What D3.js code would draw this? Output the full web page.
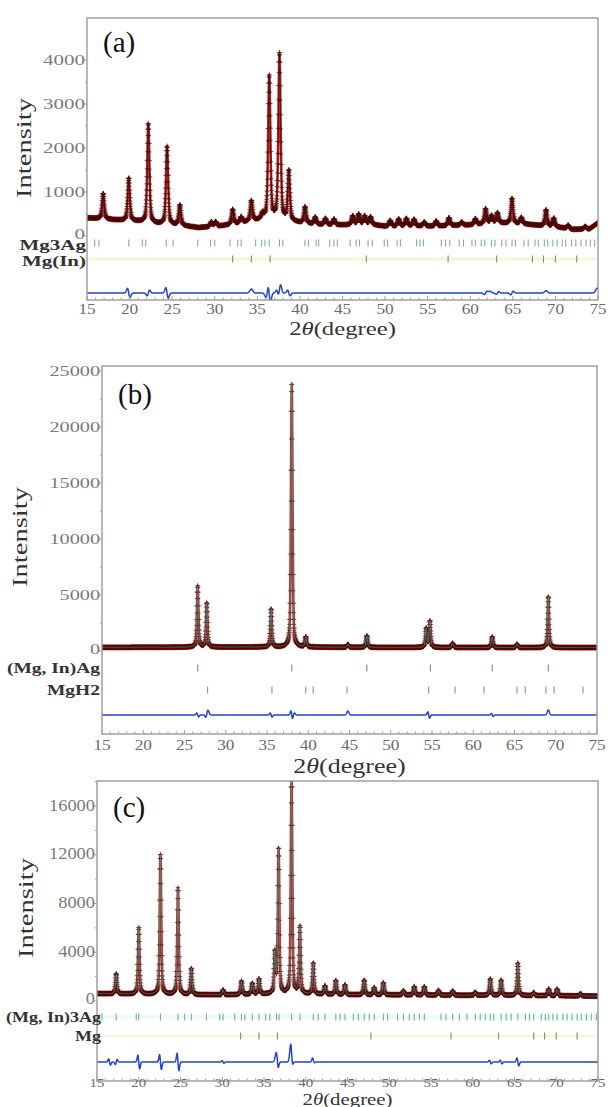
<!DOCTYPE html>
<html><head><meta charset="utf-8">
<script src="https://cdn.jsdelivr.net/npm/d3@7"></script>
<style>body{margin:0;background:#fff}svg{display:block}</style>
</head><body><svg id="c" width="609" height="1107"></svg>
<script>
// ---------------- DATA ----------------
const xTickVals = [15,20,25,30,35,40,45,50,55,60,65,70,75];

// Panel (a): peaks [2θ, intensity above background], background knots [2θ, intensity]
const bgA = [[15,410],[16,400],[18,370],[21,330],[23,280],[26,240],[28,190],[30,210],[32,260],[34,330],[36,380],[38,360],[40,300],[42,260],[45,250],[48,270],[50,220],[53,230],[56,220],[58,240],[60,250],[63,300],[66,280],[68,240],[70,210],[72,150],[74,160],[75,300]];
const peaksA = [[16.9,580],[19.9,970],[22.2,2250],[24.4,1770],[25.9,460],[29.6,110],[30.1,110],[32.1,340],[33.1,130],[34.3,460],[35.6,120],[36.4,3250],[37.6,3770],[38.7,1130],[40.6,370],[41.8,160],[43.0,140],[44.0,130],[46.2,200],[46.9,230],[47.6,190],[48.3,170],[50.6,130],[51.6,160],[52.5,170],[53.4,150],[54.6,90],[56.0,120],[57.5,180],[59.0,70],[60.6,130],[61.8,340],[62.5,170],[63.2,230],[64.9,570],[66.0,140],[68.9,370],[69.8,190],[71.5,80],[73.5,60]];
const mg3AgTicks = [15.9,16.4,19.9,21.5,21.9,24.3,25.1,28.0,29.5,30.0,31.8,32.7,33.1,34.8,35.5,35.9,36.4,37.6,38.0,40.6,41.0,41.9,42.2,43.5,44.0,44.4,45.9,46.6,47.0,48.0,48.5,49.9,50.3,51.4,51.8,53.7,54.1,54.5,56.6,57.1,57.6,58.7,59.2,60.2,60.6,61.3,61.7,62.5,62.9,63.7,64.2,64.9,65.3,66.3,66.8,67.6,68.0,68.7,69.1,69.7,70.2,70.8,71.2,71.9,72.4,73.0,73.6,74.1,74.6];
const mgInTicks = [32.1,34.3,36.5,47.8,57.4,63.1,67.3,68.6,70.0,72.5];
const diffWigA = [[19.9,-150],[22.2,90],[24.4,-170],[36.4,-300],[37.6,230],[38.7,-90],[61.8,50],[63.2,40],[64.9,60]];
const diffBumpA = [[34.3,90],[36.1,-150],[37.4,150],[62.3,40],[68.9,50],[74.9,110]];

// Panel (b)
const bgB = [[15,330],[25,340],[35,350],[45,330],[55,320],[65,310],[75,300]];
const peaksB = [[26.6,5450],[27.7,3950],[35.5,3400],[38.0,23450],[39.7,900],[44.8,260],[47.1,1050],[54.3,1700],[54.75,2350],[57.5,380],[62.3,950],[65.3,300],[69.1,4550]];
const mgInAgTicks = [26.6,38.0,47.1,54.8,62.3,69.1];
const mgH2Ticks = [27.8,35.6,39.7,40.6,44.7,54.6,57.8,61.3,65.3,66.3,68.8,69.8,73.3];
const diffWigB = [[26.6,-250],[27.7,300],[35.5,-250],[38.0,-500],[54.6,-400],[62.3,-180]];
const diffBumpB = [[27.9,250],[44.8,350],[69.1,450],[38.3,200]];

// Panel (c)
const bgC = [[15,600],[20,560],[25,520],[30,500],[35,560],[40,560],[45,520],[50,500],[55,480],[60,470],[65,460],[70,430],[75,400]];
const peaksC = [[17.3,1650],[20.0,5450],[22.6,11450],[24.7,8750],[26.3,2150],[30.1,400],[32.3,1100],[33.6,900],[34.4,1250],[36.3,3300],[36.75,11900],[38.3,17400],[39.3,5500],[40.9,2550],[42.3,700],[43.6,1150],[44.7,800],[47.0,1200],[48.2,600],[49.3,1000],[51.7,350],[53.0,700],[54.2,700],[55.9,400],[57.6,350],[60.3,250],[62.1,1350],[63.4,1250],[65.4,2650],[67.3,250],[69.1,550],[70.1,550],[72.9,200]];
const mgIn3AgTicks = [15.6,17.3,19.7,20.0,22.6,24.7,25.5,26.3,28.1,29.7,30.1,31.5,32.3,32.7,33.6,34.4,35.2,35.7,36.5,36.8,38.3,39.3,40.9,41.5,42.3,43.6,44.1,44.7,45.7,46.3,47.0,47.6,48.2,49.3,49.8,51.0,51.7,52.4,53.0,53.6,54.2,56.2,56.8,57.6,58.4,59.3,60.3,60.9,61.5,62.1,62.5,63.4,64.0,64.6,65.4,66.3,66.8,67.3,68.2,68.7,69.1,69.6,70.1,70.8,71.3,71.9,72.5,73.0,73.6,74.2,74.8];
const mgTicks = [32.2,34.4,36.6,47.8,57.4,63.1,67.3,68.6,70.0,72.5];
const diffWigC = [[16.5,-350],[17.3,300],[20.0,-800],[22.6,-850],[24.7,-1000],[30.1,-150],[36.6,-650],[38.3,-500],[40.9,-250],[62.1,-200],[63.4,-200],[65.4,-450]];
const diffBumpC = [[38.2,1100],[36.4,400],[40.9,200]];

const yTicksA = [0,1000,2000,3000,4000];
const yTicksB = [0,5000,10000,15000,20000,25000];
const yTicksC = [0,4000,8000,12000,16000];

// ---------------- DRAW ----------------
const svg = d3.select("#c");
const FONT = "'Liberation Serif','Times New Roman',serif";

const panels = [
  {label:"(a)", peaks:peaksA, bg:bgA, wig:diffWigA, bump:diffBumpA,
   ph:[{name:"Mg3Ag", t:mg3AgTicks, c:"#86ad93"},{name:"Mg(In)", t:mgInTicks, c:"#8d8d4a"}],
   yTicks:yTicksA, yMinorStep:500, yMax:4000, band2:"#f7f3cf", band1:null, calc:"#2a1a1a",
   L:87,R:598,T:18,B:300, y0px:236, yTopPx:60, rows:[243,259], diffY:293, fw:0.3,
   titleY:335, tickLabY:314, lab:[103,52], ylabX:31, ylabY:148, phX:86, phSx:1.5, phFs:14, phDy:7, ySx:1.4, yFs:15, xFs:15, tFs:19},
  {label:"(b)", peaks:peaksB, bg:bgB, wig:diffWigB, bump:diffBumpB,
   ph:[{name:"(Mg, In)Ag", t:mgInAgTicks, c:"#5f9c7a"},{name:"MgH2", t:mgH2Ticks, c:"#7f9a80"}],
   yTicks:yTicksB, yMinorStep:2500, yMax:25000, band2:null, band1:null, calc:"#2aa08c",
   L:102,R:597,T:366,B:734, y0px:651, yTopPx:371, rows:[668,690], diffY:715, fw:0.22,
   titleY:773, tickLabY:750, lab:[118,404], ylabX:27, ylabY:537, phX:100, phSx:1.3, phFs:15, phDy:5, ySx:1.35, yFs:15, xFs:15, tFs:20},
  {label:"(c)", peaks:peaksC, bg:bgC, wig:diffWigC, bump:diffBumpC,
   ph:[{name:"(Mg, In)3Ag", t:mgIn3AgTicks, c:"#6fb0a0"},{name:"Mg", t:mgTicks, c:"#8d8d4a"}],
   yTicks:yTicksC, yMinorStep:2000, yMax:16000, band2:"#f8f5d8", band1:"#eef9f8", calc:"#2aa08c",
   L:97,R:598,T:781,B:1081, y0px:1001, yTopPx:806, rows:[1017,1036], diffY:1062, fw:0.22,
   titleY:1105, tickLabY:1087, lab:[113,817], ylabX:33, ylabY:908, phX:101, phSx:1.2, phFs:15, phDy:5, ySx:1.15, yFs:16, xFs:13, tFs:16}
];

function pv(x, p, w){
  const d = (x-p)/w;
  const L = 1/(1+4*d*d);
  const G = Math.exp(-4*Math.LN2*d*d);
  return 0.5*L + 0.5*G;
}

panels.forEach((P, pi) => {
  const g = svg.append("g");
  const x = d3.scaleLinear().domain([15,75]).range([P.L, P.R]);
  const y = d3.scaleLinear().domain([0, P.yMax]).range([P.y0px, P.yTopPx]);
  const bgScale = d3.scaleLinear().domain(P.bg.map(d=>d[0])).range(P.bg.map(d=>d[1]));

  const clipId = "clip"+pi;
  g.append("clipPath").attr("id", clipId).append("rect")
    .attr("x", P.L).attr("y", P.T).attr("width", P.R-P.L).attr("height", P.B-P.T);

  const xs = d3.range(15, 75.0001, 0.02);
  const model = xs.map(t => {
    let v = bgScale(t);
    P.peaks.forEach(([p,a]) => { v += a*pv(t, p, P.fw); });
    return [t, v];
  });

  const plot = g.append("g").attr("clip-path", `url(#${clipId})`);

  if (P.band2) plot.append("line").attr("x1", x(15)).attr("x2", x(75)).attr("y1", P.rows[1]).attr("y2", P.rows[1])
    .attr("stroke", P.band2).attr("stroke-width", 2.5);
  if (P.band1) plot.append("line").attr("x1", x(15)).attr("x2", x(75)).attr("y1", P.rows[0]).attr("y2", P.rows[0])
    .attr("stroke", P.band1).attr("stroke-width", 4);

  // observed (red halo + dark crosses)
  const line = d3.line().x(d=>x(d[0])).y(d=>y(d[1]));
  plot.append("path").datum(model).attr("d", line)
    .attr("fill","none").attr("stroke","#cc2222").attr("stroke-width",2.6).attr("stroke-linejoin","round");
  let redD = "", darkD = "";
  model.forEach((d,i) => {
    const cx = x(d[0]), cy = y(d[1]);
    if (i % 2 === 0) redD += `M${(cx-3).toFixed(1)},${cy.toFixed(1)}h6M${cx.toFixed(1)},${(cy-3).toFixed(1)}v6`;
    darkD += `M${(cx-2.3).toFixed(1)},${cy.toFixed(1)}h4.6M${cx.toFixed(1)},${(cy-2.3).toFixed(1)}v4.6`;
  });
  plot.append("path").attr("d", redD).attr("fill","none").attr("stroke","#e04848").attr("stroke-width",0.8).attr("opacity",0.7);
  plot.append("path").attr("d", darkD).attr("fill","none").attr("stroke","#520909").attr("stroke-width",0.9).attr("opacity",0.75);
  // calculated
  plot.append("path").datum(model).attr("d", line)
    .attr("fill","none").attr("stroke",P.calc).attr("stroke-width",0.9).attr("opacity",0.9);

  // Bragg ticks
  P.ph.forEach((ph, k) => {
    plot.selectAll(null).data(ph.t).enter().append("line")
      .attr("x1", d=>x(d)).attr("x2", d=>x(d))
      .attr("y1", P.rows[k]-3.5).attr("y2", P.rows[k]+3.5)
      .attr("stroke", ph.c).attr("stroke-width", 1.1);
  });

  // difference curve
  const diff = xs.map(t => {
    let v = 0;
    P.wig.forEach(([p,a]) => { const d=(t-p)/(P.fw*0.7); v += a*1.65*d*Math.exp(-d*d); });
    P.bump.forEach(([p,a]) => { const d=(t-p)/(P.fw*0.8); v += a*Math.exp(-d*d); });
    return [t, v];
  });
  const dline = d3.line().x(d=>x(d[0])).y(d=>P.diffY + (y(d[1]) - y(0)));
  plot.append("path").datum(diff).attr("d", dline)
    .attr("fill","none").attr("stroke","#2346c8").attr("stroke-width",1.5);

  // frame
  g.append("rect").attr("x",P.L).attr("y",P.T).attr("width",P.R-P.L).attr("height",P.B-P.T)
    .attr("fill","none").attr("stroke","#9a9a9a").attr("stroke-width",1.4);

  // x axis ticks (every 1°, inward)
  const xMinor = d3.range(15, 75.001, 1);
  g.selectAll(null).data(xMinor).enter().append("line")
    .attr("x1", d=>x(d)).attr("x2", d=>x(d))
    .attr("y1", P.B).attr("y2", d=> P.B - (d%5===0 ? 4 : 2.5))
    .attr("stroke","#a0a0a0").attr("stroke-width",1);
  g.selectAll(null).data(xTickVals).enter().append("text")
    .attr("transform", d=>`translate(${x(d)},${P.tickLabY}) scale(1.15,1)`)
    .attr("text-anchor","middle").attr("font-family",FONT).attr("font-size",P.xFs)
    .attr("fill","#6a6a6a").text(d=>d);

  // y axis ticks
  const yMinor = d3.range(0, P.yMax + 0.001 + (pi===2?2000:0), P.yMinorStep);
  g.selectAll(null).data(yMinor).enter().append("line")
    .attr("x1", P.L).attr("x2", d=> P.L - (P.yTicks.includes(d)?3:2))
    .attr("y1", d=>y(d)).attr("y2", d=>y(d))
    .attr("stroke","#a0a0a0").attr("stroke-width",1);
  g.selectAll(null).data(P.yTicks).enter().append("text")
    .attr("transform", d=>`translate(${P.L-2},${y(d)+(d===0?2.5:4.5)}) scale(${P.ySx},1)`)
    .attr("text-anchor","end").attr("font-family",FONT).attr("font-size",P.yFs)
    .attr("fill","#7a7a7a").text(d=>d);

  // axis title
  const tt = g.append("text").attr("transform",`translate(${(P.L+P.R)/2},${P.titleY}) scale(1.3,1)`)
    .attr("text-anchor","middle").attr("font-family",FONT).attr("font-size",P.tFs).attr("fill","#333");
  tt.append("tspan").text("2");
  tt.append("tspan").attr("font-style","italic").text("θ");
  tt.append("tspan").text("(degree)");

  // y label
  g.append("text").attr("transform",`translate(${P.ylabX},${P.ylabY}) rotate(-90)`)
    .attr("text-anchor","middle").attr("font-family",FONT).attr("font-size",22)
    .attr("textLength",100).attr("lengthAdjust","spacingAndGlyphs")
    .attr("fill","#333").text("Intensity");

  // panel label
  g.append("text").attr("x",P.lab[0]).attr("y",P.lab[1]).attr("font-family",FONT)
    .attr("font-size",29).attr("fill","#111").text(P.label);

  // phase labels
  P.ph.forEach((ph,k) => {
    g.append("text").attr("transform",`translate(${P.phX},${P.rows[k]+P.phDy}) scale(${P.phSx},1)`)
      .attr("text-anchor","end").attr("font-family",FONT).attr("font-weight","bold")
      .attr("font-size",P.phFs).attr("fill","#333").text(ph.name);
  });
});
</script></body></html>
